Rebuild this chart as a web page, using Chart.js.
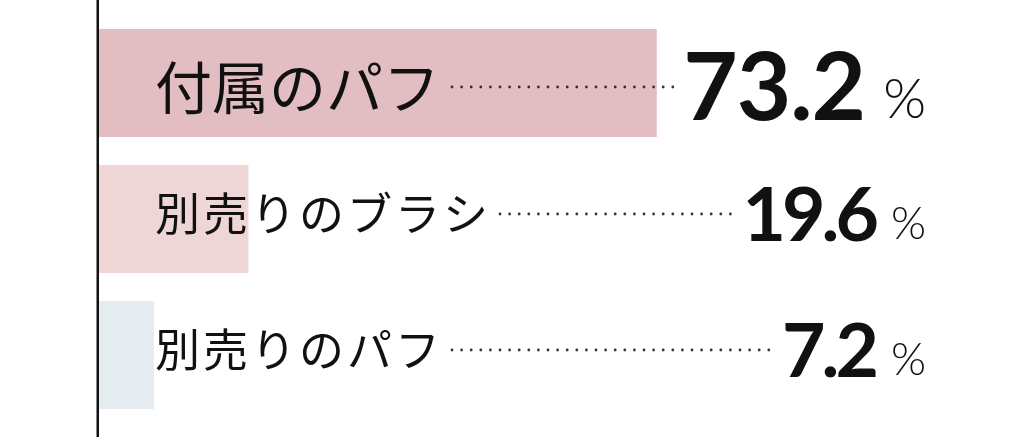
<!DOCTYPE html>
<html>
<head>
<meta charset="utf-8">
<script src="https://cdn.jsdelivr.net/npm/chart.js@4"></script>
<style>
  html, body { margin: 0; padding: 0; background: #fff; }
  #wrap { width: 1024px; height: 440px; position: relative; }
</style>
</head>
<body>
<div id="wrap"><canvas id="shareChart"></canvas></div>
<script>
const labels = ["付属のパフ", "別売りのブラシ", "別売りのパフ"];
const shares = [73.2, 19.6, 7.2];
const barColors = ["#e2bec2", "#eed6d7", "#e4ecef"];

// label / value text drawn next to each bar, with a dotted leader between
const leaderPlugin = {
  id: "leader",
  afterDatasetsDraw(chart) {
    const c = chart.ctx;
    const meta = chart.getDatasetMeta(0);
    const area = chart.chartArea;
    c.save();
    // axis line, runs a bit past the bars
    c.fillStyle = "#111";
    c.fillRect(area.left - 2.5, 0, 2.5, 437);

    meta.data.forEach((bar, i) => {
      const big = i === 0;
      const mid = bar.y + (big ? 4 : -5);
      // category label
      c.fillStyle = "#111";
      c.textBaseline = "middle";
      c.textAlign = "left";
      c.font = (big ? "400 57px" : "400 45px") + " 'Noto Sans CJK JP'";
      c.letterSpacing = big ? "0px" : "3px";
      const lx = 155;
      c.fillText(labels[i], lx, mid);
      const labelEnd = lx + c.measureText(labels[i]).width - (big ? 0 : 3);

      // percent sign
      c.letterSpacing = "0px";
      c.textBaseline = "alphabetic";
      c.textAlign = "right";
      c.font = (big ? "300 55px" : "300 45px") + " Lato";
      const pw = c.measureText("%").width;
      const base = mid + (big ? 33 : 27);
      c.fillText("%", 926, base - 2);

      // value
      c.font = (big ? "700 94px" : "700 75px") + " Lato";
      c.letterSpacing = big ? "-1px" : "-4px";
      const txt = shares[i].toFixed(1);
      const numRight = 926 - pw - (big ? 18 : 16);
      c.fillText(txt, numRight, base);
      const numLeft = numRight - c.measureText(txt).width;

      // dotted leader
      c.fillStyle = "#333";
      for (let x = labelEnd + 12; x <= numLeft - 10; x += 9.6) {
        c.beginPath();
        c.arc(x, mid, 1.4, 0, Math.PI * 2);
        c.fill();
      }
    });
    c.restore();
  }
};

new Chart(document.getElementById("shareChart"), {
  type: "bar",
  data: {
    labels: labels,
    datasets: [{
      data: shares,
      backgroundColor: barColors,
      borderWidth: 0,
      barPercentage: 0.794,
      categoryPercentage: 1
    }]
  },
  options: {
    indexAxis: "y",
    responsive: true,
    maintainAspectRatio: false,
    animation: false,
    layout: { padding: { left: 99, right: 163, top: 15, bottom: 17 } },
    scales: {
      x: { display: false, min: 0, max: 100 },
      y: { display: false }
    },
    plugins: {
      legend: { display: false },
      tooltip: { enabled: false }
    }
  },
  plugins: [leaderPlugin]
});
</script>
</body>
</html>
